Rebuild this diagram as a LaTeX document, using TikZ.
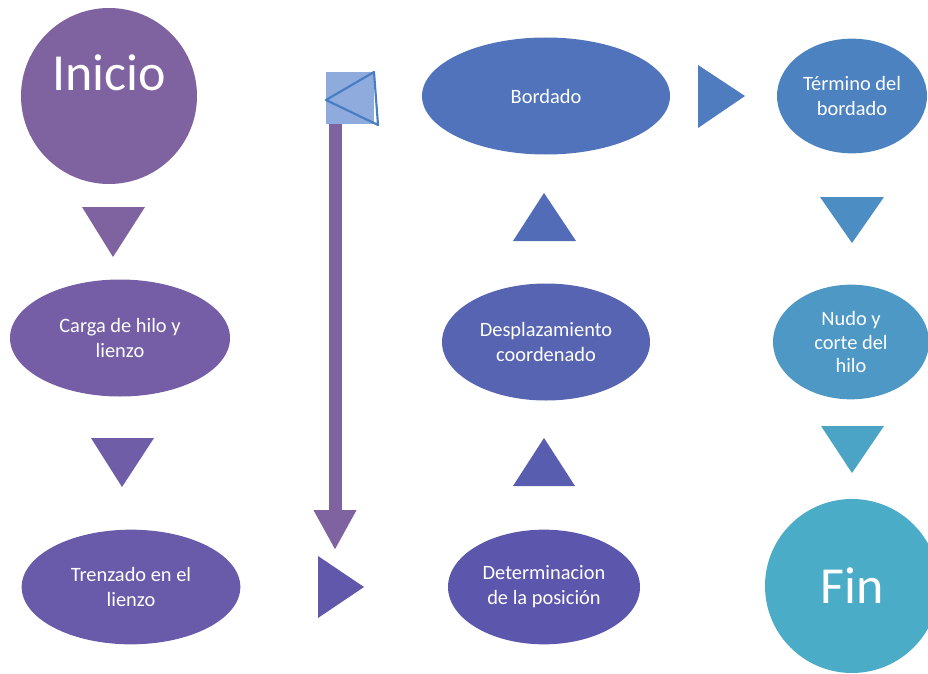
\documentclass[tikz,border=0pt]{standalone}
\usepackage{fontspec}
\setmainfont{Carlito}
\usetikzlibrary{shapes.geometric,arrows.meta}

\definecolor{cInicio}{RGB}{127,99,161}
\definecolor{cCarga}{RGB}{117,94,165}
\definecolor{cTrenz}{RGB}{105,91,170}
\definecolor{cDeterm}{RGB}{92,86,172}
\definecolor{cDespl}{RGB}{86,100,178}
\definecolor{cBord}{RGB}{80,115,187}
\definecolor{cTerm}{RGB}{76,130,192}
\definecolor{cNudo}{RGB}{77,152,197}
\definecolor{cFin}{RGB}{74,172,198}
\definecolor{cBox}{RGB}{143,170,220}
\definecolor{cBoxLine}{RGB}{70,125,195}

\begin{document}
\begin{tikzpicture}[x=0.75pt,y=-0.75pt,
    stage/.style ={ellipse, inner sep=0pt, align=center, text=white,
    font=\fontsize{15.3}{18.75}\selectfont},
    terminal/.style={circle, inner sep=0pt},
    bigtext/.style={text=white, font=\fontsize{39}{47}\selectfont}
    ]
\clip (0,0) rectangle (928,674);
\node[terminal, fill=cInicio, minimum size=132pt] (I) at (109,96) {};
\node[bigtext] (IT) at (109,73) {Inicio};
\node[stage, fill=cCarga, minimum width=165pt, minimum height=87.75pt] (C) at (120,338) {Carga de hilo y\\lienzo};
\node[stage, fill=cTrenz, minimum width=164pt, minimum height=86pt] (T) at (131,587) {Trenzado en el\\lienzo};
\node[stage, fill=cDeterm, minimum width=144pt, minimum height=86pt] (D) at (544,587) {Determinacion\\de la posición};
\node[stage, fill=cDespl, minimum width=156pt, minimum height=87.75pt] (P) at (546,342) {Desplazamiento\\coordenado};
\node[stage, fill=cBord, minimum width=186pt, minimum height=87.75pt] (B) at (546,96) {Bordado};
\node[stage, fill=cTerm, minimum width=112.5pt, minimum height=86pt] (TB) at (852,96) {Término del\\bordado};
\node[stage, fill=cNudo, minimum width=117pt, minimum height=86pt, font=\fontsize{15.3}{17.6}\selectfont] (N) at (851,342) {Nudo y\\corte del\\hilo};
\node[terminal, fill=cFin, minimum size=130.5pt] (F) at (852,586) {};
\node[bigtext] (FT) at (852,586) {Fin};
% triangles
\fill[cInicio!97!cCarga] (82,207) -- (145,207) -- (113,257) -- cycle;
\fill[cCarga!50!cTrenz] (91,438) -- (154,438) -- (122,487) -- cycle;
\fill[cTrenz!40!cDeterm] (318,556) -- (318,618) -- (364,587) -- cycle;
\fill[cDeterm!50!cDespl] (513,486) -- (575,486) -- (544,438) -- cycle;
\fill[cDespl!50!cBord] (513,241) -- (576,241) -- (544,193) -- cycle;
\fill[cBord!40!cTerm] (698,65) -- (698,128) -- (745,96) -- cycle;
\fill[cTerm!50!cNudo] (820,197) -- (884,197) -- (852,243) -- cycle;
\fill[cNudo!40!cFin] (821,426) -- (884,426) -- (852,473) -- cycle;
% loop back box and long arrow
\node[rectangle, fill=cBox, inner sep=0pt, minimum width=36pt, minimum height=39pt] (Q) at (350,98) {};
\draw[cBoxLine, line width=1.6pt, line join=round] (374,72) -- (326,100) -- (378,125) -- cycle;
\coordinate (barTop) at (335,124);
\coordinate (barEnd) at (335,550);
\draw[cInicio, line width=9.75pt, -{Triangle[width=30pt,length=30pt]}] (barTop) -- (barEnd);
\end{tikzpicture}
\end{document}
